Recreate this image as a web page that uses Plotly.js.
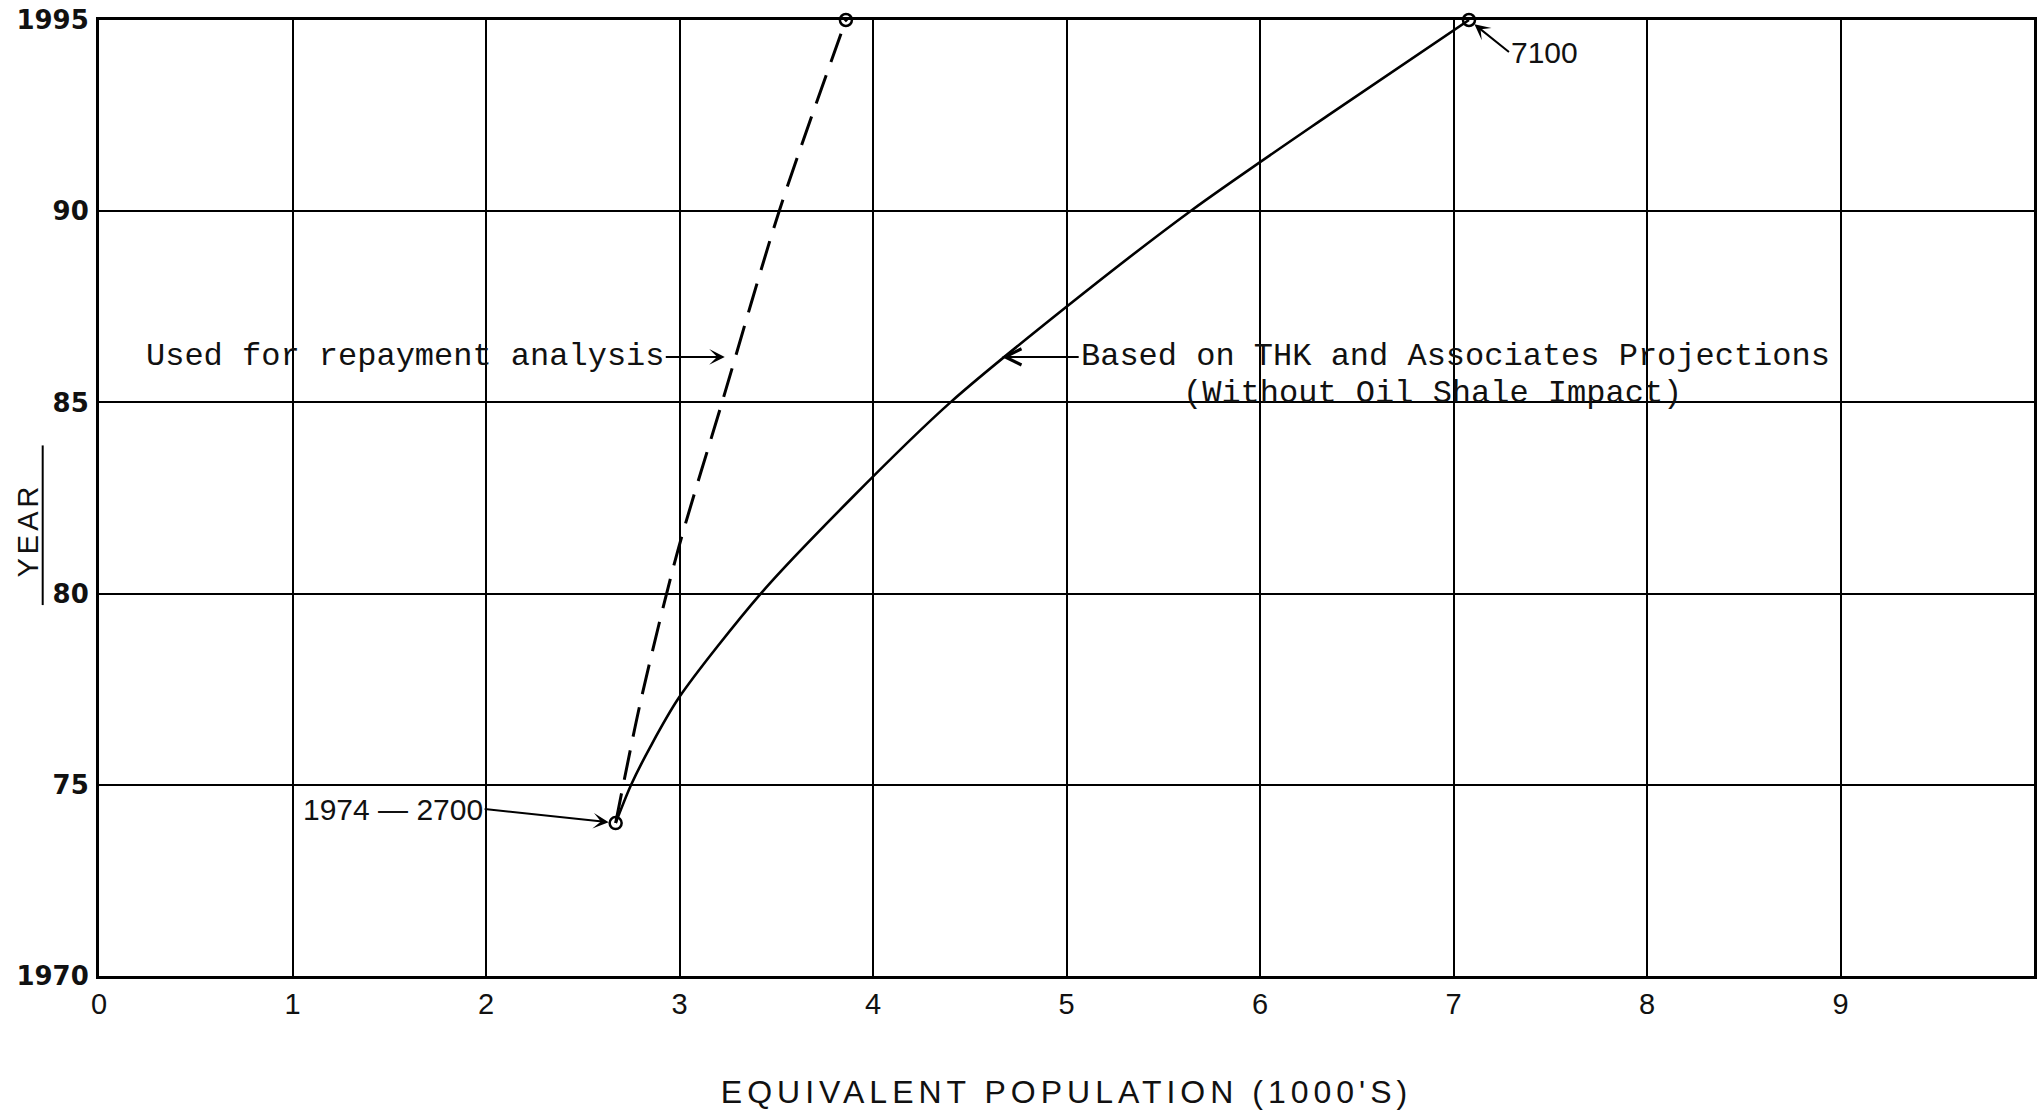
<!DOCTYPE html>
<html>
<head>
<meta charset="utf-8">
<script src="https://cdn.plot.ly/plotly-3.0.1.min.js"></script>
<style>
  html, body { margin: 0; padding: 0; background: #ffffff; }
  #chart { width: 2040px; height: 1116px; }
</style>
</head>
<body>
<div id="chart"></div>
<script>
// ---------------- data ----------------
const xTickVals = [0, 1, 2, 3, 4, 5, 6, 7, 8, 9];
const xTickText = ['0', '1', '2', '3', '4', '5', '6', '7', '8', '9'];
const yTickVals = [1970, 1975, 1980, 1985, 1990, 1995];
const yTickText = ['1970', '75', '80', '85', '90', '1995'];

// Based on THK and Associates Projections (solid curve), population in 1000's
const thkPop  = [2.67, 2.75, 2.85, 3.00, 3.42, 3.89, 4.40, 5.00, 5.64, 6.35, 7.08];
const thkYear = [1974, 1975, 1976, 1977.3, 1980, 1982.5, 1985, 1987.5, 1990, 1992.5, 1995];

// Used for repayment analysis (dashed curve)
const repayPop  = [2.67, 2.80, 2.99, 3.22, 3.515, 3.86];
const repayYear = [1974, 1977.2, 1981.1, 1985, 1990, 1995];

// annotation texts
const txtRepay = 'Used for repayment analysis';
const txtThk1 = 'Based on THK and Associates Projections';
const txtThk2 = '(Without Oil Shale Impact)';
const txtStart = '1974 \u2014 2700';
const txtEnd = '7100';
const txtXTitle = "EQUIVALENT POPULATION (1000'S)";
const txtYTitle = 'YEAR';

// ---------------- traces ----------------
const markerX = [thkPop[0], repayPop[repayPop.length - 1], thkPop[thkPop.length - 1]];
const markerY = [thkYear[0], repayYear[repayYear.length - 1], thkYear[thkYear.length - 1]];

const traces = [
  {
    type: 'scatter', mode: 'lines', x: thkPop, y: thkYear,
    line: { color: '#000', width: 2.6, shape: 'spline', smoothing: 0.8 },
    hoverinfo: 'skip', showlegend: false
  },
  {
    type: 'scatter', mode: 'lines', x: repayPop, y: repayYear,
    line: { color: '#000', width: 3, dash: '30px,14px', shape: 'spline', smoothing: 0.8 },
    hoverinfo: 'skip', showlegend: false
  },
  {
    type: 'scatter', mode: 'markers', x: markerX, y: markerY, cliponaxis: false,
    marker: { symbol: ['circle-open', 'circle-open-dot', 'circle-open'], size: 12,
              color: '#000', line: { color: '#000', width: 2.5 } },
    hoverinfo: 'skip', showlegend: false
  }
];

const monoFont = { family: 'Liberation Mono, Courier New, monospace', size: 32, color: '#111' };
const sansFont = { family: 'Liberation Sans, Arial, sans-serif', size: 30, color: '#111' };

const layout = {
  width: 2040, height: 1116,
  margin: { l: 99, r: 6, t: 20, b: 140, pad: 0 },
  paper_bgcolor: '#ffffff', plot_bgcolor: '#ffffff',
  showlegend: false,
  hovermode: false,
  xaxis: {
    range: [0, 10], tickvals: xTickVals, ticktext: xTickText,
    showgrid: true, gridcolor: '#000', gridwidth: 2,
    zeroline: false, showline: true, mirror: true, linecolor: '#000', linewidth: 3,
    ticks: '', ticklabelstandoff: 0,
    tickfont: { family: 'Liberation Sans, Arial, sans-serif', size: 29, color: '#111' },
    title: {
      text: '<span style="letter-spacing:5px">' + txtXTitle + '</span>',
      font: { family: 'Liberation Sans, Arial, sans-serif', size: 32, color: '#111' },
      standoff: 62
    }
  },
  yaxis: {
    range: [1970, 1995], tickvals: yTickVals, ticktext: yTickText,
    showgrid: true, gridcolor: '#000', gridwidth: 2,
    zeroline: false, showline: true, mirror: true, linecolor: '#000', linewidth: 3,
    ticks: '', ticklabelstandoff: 2,
    tickfont: { family: 'DejaVu Sans, sans-serif', size: 26, color: '#111', weight: 'bold' }
  },
  annotations: [
    { // dashed curve label
      x: 3.234, y: 1986.19, xref: 'x', yref: 'y',
      ax: -59, ay: 0, axref: 'pixel', ayref: 'pixel',
      text: txtRepay, font: monoFont, xanchor: 'right', yanchor: 'middle',
      showarrow: true, arrowhead: 3, arrowsize: 1.3, arrowwidth: 2, arrowcolor: '#000'
    },
    { // solid curve label, line 1
      x: 4.665, y: 1986.19, xref: 'x', yref: 'y',
      ax: 77, ay: 0, axref: 'pixel', ayref: 'pixel',
      text: txtThk1, font: monoFont, xanchor: 'left', yanchor: 'middle',
      showarrow: true, arrowhead: 5, arrowsize: 1.6, arrowwidth: 2, arrowcolor: '#000'
    },
    { // solid curve label, line 2
      x: 5.594, y: 1985.22, xref: 'x', yref: 'y',
      text: txtThk2, font: monoFont, xanchor: 'left', yanchor: 'middle',
      showarrow: false
    },
    { // start point label
      x: thkPop[0], y: thkYear[0], xref: 'x', yref: 'y',
      ax: -131, ay: -14, axref: 'pixel', ayref: 'pixel',
      text: txtStart, font: sansFont, xanchor: 'right', yanchor: 'middle',
      showarrow: true, arrowhead: 3, arrowsize: 1.3, arrowwidth: 2, arrowcolor: '#000', standoff: 7
    },
    { // end point label
      x: thkPop[thkPop.length - 1], y: thkYear[thkYear.length - 1], xref: 'x', yref: 'y',
      ax: 40, ay: 32, axref: 'pixel', ayref: 'pixel',
      text: txtEnd, font: sansFont, xanchor: 'left', yanchor: 'middle',
      showarrow: true, arrowhead: 3, arrowsize: 1.3, arrowwidth: 2, arrowcolor: '#000', standoff: 7
    },
    { // y axis title
      x: -0.0372, y: 0.466, xref: 'paper', yref: 'paper',
      text: '<span style="letter-spacing:4px">' + txtYTitle + '</span>',
      textangle: -90, showarrow: false, xanchor: 'center', yanchor: 'middle',
      font: { family: 'Liberation Sans, Arial, sans-serif', size: 29, color: '#111' }
    }
  ],
  shapes: [
    { // underline of the y axis title
      type: 'line', xref: 'paper', yref: 'paper',
      x0: -0.0291, x1: -0.0291, y0: 0.388, y1: 0.555,
      line: { color: '#000', width: 2 }
    }
  ]
};

Plotly.newPlot('chart', traces, layout, { staticPlot: true, displayModeBar: false });
</script>
</body>
</html>
